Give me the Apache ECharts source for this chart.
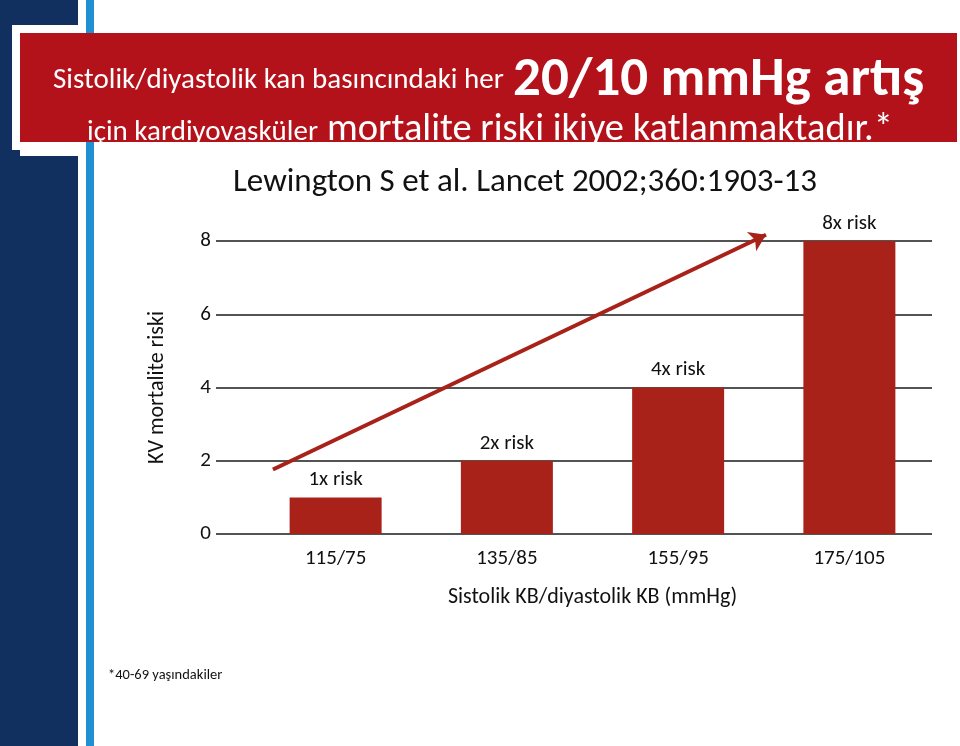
<!DOCTYPE html>
<html><head><meta charset="utf-8">
<script src="https://cdn.jsdelivr.net/npm/echarts@6/dist/echarts.min.js"></script>
<style>html,body{margin:0;padding:0;background:#fff}#c{width:960px;height:746px}</style>
</head><body><div id="c"></div>
<script>
const categories = ['115/75', '135/85', '155/95', '175/105'];
const riskValues = [1, 2, 4, 8];
const riskLabels = ['1x risk', '2x risk', '4x risk', '8x risk'];
const arrowStart = [-0.366, 1.76];
const arrowEnd = [2.513, 8.17];
const yMin = 0, yMax = 8, yStep = 2;

const FONT = 'Carlito, Calibri, Lato, sans-serif';
const chart = echarts.init(document.getElementById('c'), null, {renderer: 'canvas'});

chart.setOption({
  animation: false,
  backgroundColor: '#ffffff',
  textStyle: {fontFamily: FONT},
  graphic: [
    {type: 'rect', z: 0, shape: {x: 0, y: 0, width: 78, height: 746}, style: {fill: '#12305f'}},
    {type: 'rect', z: 1, shape: {x: 12, y: 25, width: 70, height: 125}, style: {fill: '#ffffff'}},
    {type: 'rect', z: 1, shape: {x: 86, y: 0, width: 8, height: 33}, style: {fill: '#2190d2'}},
    {type: 'rect', z: 2, shape: {x: 20, y: 33, width: 937, height: 109}, style: {fill: '#b4121b'}},
    {type: 'text', z: 3, style: {text: 'Sistolik/diyastolik kan basıncındaki her', x: 53, y: 80.5, fill: '#ffffff', font: '29px ' + FONT, textAlign: 'left', textVerticalAlign: 'middle'}},
    {type: 'text', z: 3, style: {text: '20/10 mmHg artış', x: 513, y: 81, fill: '#ffffff', font: 'bold 55px ' + FONT, textAlign: 'left', textVerticalAlign: 'middle'}},
    {type: 'text', z: 3, style: {text: 'için kardiyovasküler', x: 87, y: 132.5, fill: '#ffffff', font: '29px ' + FONT, textAlign: 'left', textVerticalAlign: 'middle'}},
    {type: 'text', z: 3, style: {text: 'mortalite riski ikiye katlanmaktadır.*', x: 327, y: 130, fill: '#ffffff', font: '38.5px ' + FONT, textAlign: 'left', textVerticalAlign: 'middle'}},
    {type: 'rect', z: 4, shape: {x: 20, y: 142, width: 940, height: 14}, style: {fill: '#ffffff'}},
    {type: 'rect', z: 5, shape: {x: 86, y: 142, width: 8, height: 604}, style: {fill: '#2190d2'}},
    {type: 'text', z: 3, style: {text: 'Lewington S et al. Lancet 2002;360:1903-13', x: 233, y: 183, fill: '#111111', font: '33px ' + FONT, textAlign: 'left', textVerticalAlign: 'middle'}},
    {type: 'text', z: 3, style: {text: '*40-69 yaşındakiler', x: 108, y: 675, fill: '#111111', font: '14.5px ' + FONT, textAlign: 'left', textVerticalAlign: 'middle'}}
  ],
  grid: [
    {left: 216, right: 28, top: 241, bottom: 212},
    {left: 250, right: 25, top: 241, bottom: 212}
  ],
  xAxis: [
    {gridIndex: 0, type: 'value', min: 0, max: 1, show: false},
    {gridIndex: 1, type: 'category', data: categories,
     axisLine: {show: false}, axisTick: {show: false},
     axisLabel: {color: '#111', fontSize: 21, margin: 14, fontFamily: FONT},
     name: 'Sistolik KB/diyastolik KB (mmHg)', nameLocation: 'middle', nameGap: 52,
     nameTextStyle: {color: '#111', fontSize: 22, fontFamily: FONT}},
    {gridIndex: 1, type: 'value', min: -0.5, max: 3.5, show: false}
  ],
  yAxis: [
    {gridIndex: 0, type: 'value', min: yMin, max: yMax, interval: yStep,
     axisLine: {show: false}, axisTick: {show: false},
     axisLabel: {color: '#111', fontSize: 21, margin: 5, fontFamily: FONT},
     splitLine: {show: true, lineStyle: {color: '#1a1a1a', width: 1.5}},
     name: 'KV mortalite riski', nameLocation: 'middle', nameRotate: 90, nameGap: 48,
     nameTextStyle: {color: '#111', fontSize: 22, fontFamily: FONT}},
    {gridIndex: 1, type: 'value', min: yMin, max: yMax, interval: yStep, show: false, splitLine: {show: false}}
  ],
  series: [
    {type: 'bar', xAxisIndex: 1, yAxisIndex: 1, data: riskValues, barWidth: 92, z: 3,
     itemStyle: {color: '#a8221a'},
     label: {show: true, position: 'top', distance: 7, color: '#111', fontSize: 21, fontFamily: FONT,
       formatter: p => riskLabels[p.dataIndex]}},
    {type: 'lines', coordinateSystem: 'cartesian2d', xAxisIndex: 2, yAxisIndex: 1, z: 4, clip: false,
     symbol: ['none', 'arrow'], symbolSize: 16,
     lineStyle: {color: '#a8221a', width: 4, opacity: 1},
     data: [{coords: [arrowStart, arrowEnd]}]}
  ]
});
</script></body></html>
